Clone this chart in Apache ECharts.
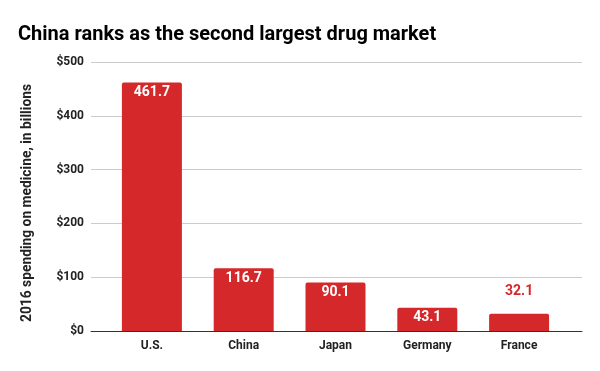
<!DOCTYPE html>
<html>
<head>
<meta charset="utf-8">
<script src="https://cdn.jsdelivr.net/npm/echarts@6/dist/echarts.min.js"></script>
<style>html,body{margin:0;padding:0;background:#fff}#c{width:600px;height:371px}</style>
</head>
<body>
<div id="c"></div>
<script>
const categories = ['U.S.', 'China', 'Japan', 'Germany', 'France'];
const spending = [461.7, 116.7, 90.1, 43.1, 32.1];
const yTicks = [0, 100, 200, 300, 400, 500];
const titleText = 'China ranks as the second largest drug market';
const yAxisTitle = '2016 spending on medicine, in billions';

const RED = '#d5282b';
const chart = echarts.init(document.getElementById('c'), null, {renderer: 'canvas'});
const lastIdx = spending.length - 1;
const barData = spending.map((v, i) => {
  if (i === lastIdx) {
    return {value: v, label: {position: 'top', distance: 15, color: RED}};
  }
  return v;
});

chart.setOption({
  animation: false,
  textStyle: {fontFamily: 'Roboto'},
  title: {
    text: titleText, left: 18, top: 25, padding: 0,
    textStyle: {fontFamily: 'Roboto', fontWeight: 'bold', fontSize: 20, color: '#000'}
  },
  graphic: [{
    type: 'text', x: 28, y: 203, rotation: Math.PI / 2,
    style: {text: yAxisTitle, align: 'center', verticalAlign: 'middle',
      font: 'bold 13.8px Roboto', fill: '#222'}
  }],
  grid: [
    {left: 91, right: 18, top: 62, bottom: 40},
    {left: 106, right: 35, top: 62, bottom: 40}
  ],
  xAxis: [
    {gridIndex: 0, type: 'category', data: categories, axisLabel: {show: false},
     axisTick: {show: false}, axisLine: {show: true, lineStyle: {color: '#333', width: 1}}, z: 5},
    {gridIndex: 1, type: 'category', data: categories,
     axisTick: {show: false}, axisLine: {show: false},
     axisLabel: {color: '#222', fontWeight: 'bold', fontSize: 12, margin: 9}}
  ],
  yAxis: [
    {gridIndex: 0, type: 'value', min: yTicks[0], max: yTicks[yTicks.length - 1], interval: 100,
     axisLine: {show: false}, axisTick: {show: false},
     axisLabel: {formatter: v => '$' + v, color: '#222', fontWeight: 'bold', fontSize: 12, margin: 7},
     splitLine: {lineStyle: {color: '#cccccc', width: 1}}},
    {gridIndex: 1, type: 'value', min: yTicks[0], max: yTicks[yTicks.length - 1], interval: 100,
     show: false, splitLine: {show: false}}
  ],
  series: [{
    type: 'bar', xAxisIndex: 1, yAxisIndex: 1, data: barData, barWidth: 60,
    itemStyle: {color: RED, borderRadius: [2, 2, 0, 0]},
    label: {show: true, position: 'insideTop', distance: 3, color: '#fff',
      fontWeight: 'bold', fontSize: 14, fontFamily: 'Roboto', formatter: p => p.value.toFixed(1)},
    z: 3
  }]
});
</script>
</body>
</html>
